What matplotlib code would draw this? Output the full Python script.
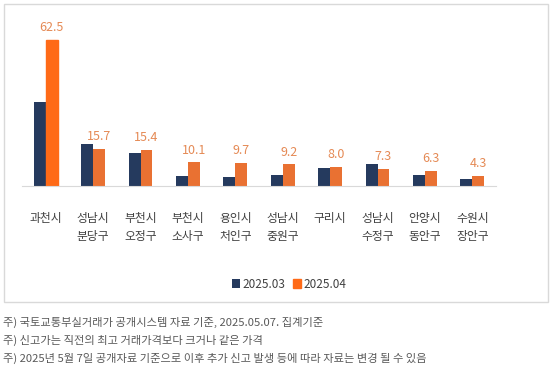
import matplotlib
matplotlib.use("Agg")
import matplotlib.pyplot as plt
from matplotlib.patches import Rectangle
import numpy as np

plt.rcParams['font.family'] = ['Noto Sans CJK KR', 'DejaVu Sans']

regions = ["과천시", "성남시\n분당구", "부천시\n오정구", "부천시\n소사구", "용인시\n처인구",
           "성남시\n중원구", "구리시", "성남시\n수정구", "안양시\n동안구", "수원시\n장안구"]
mar_2025 = [36.0, 18.0, 14.1, 4.3, 3.9, 4.7, 7.7, 9.4, 4.7, 3.0]
apr_2025 = [62.5, 15.7, 15.4, 10.1, 9.7, 9.2, 8.0, 7.3, 6.3, 4.3]
notes = ["주) 국토교통부실거래가 공개시스템 자료 기준, 2025.05.07. 집계기준",
         "주) 신고가는 직전의 최고 거래가격보다 크거나 같은 가격",
         "주) 2025년 5월 7일 공개자료 기준으로 이후 추가 신고 발생 등에 따라 자료는 변경 될 수 있음"]

navy = "#253A5E"
orange = "#E97132"
label_col = "#E58A55"

W, H = 553, 375
fig = plt.figure(figsize=(W / 100, H / 100), dpi=100)

# outer chart border
fig.patches.append(Rectangle((4 / W, 1 - 302 / H), 544 / W, 298 / H,
                             transform=fig.transFigure, fill=False,
                             edgecolor="#D9D9D9", linewidth=1))

ax = fig.add_axes([22 / W, 1 - 186 / H, 474 / W, 166 / H])
x = np.arange(len(regions))
w = 0.25
ax.bar(x - w / 2, mar_2025, w, color=navy, label="2025.03")
bars = ax.bar(x + w / 2, apr_2025, w, color=orange, label="2025.04")
bars[0].set_color("#FF6A17")

for xi, v in zip(x, apr_2025):
    ax.text(xi + w / 2, v + 2.5, f"{v:.1f}", ha="center", va="bottom",
            fontsize=9, color=label_col)

ax.set_xlim(-0.5, len(regions) - 0.5)
ax.set_ylim(0, 71)
ax.set_yticks([])
ax.set_xticks(x)
ax.set_xticklabels(regions, fontsize=8.5, color="#404040", linespacing=1.5)
ax.tick_params(axis="x", length=0, pad=19)
for s in ["top", "right", "left"]:
    ax.spines[s].set_visible(False)
ax.spines["bottom"].set_color("#D9D9D9")

fig.legend(loc="center", bbox_to_anchor=(289 / W, 1 - 284 / H), ncol=2, frameon=False,
           fontsize=8.5, handlelength=0.7, handleheight=0.7, handletextpad=0.2,
           columnspacing=0.6, labelcolor="#404040")

for i, t in enumerate(notes):
    fig.text(3 / W, 1 - (322 + 18 * i) / H, t, fontsize=8.1, color="#595959", va="center")

fig.savefig("out.png", dpi=100)
